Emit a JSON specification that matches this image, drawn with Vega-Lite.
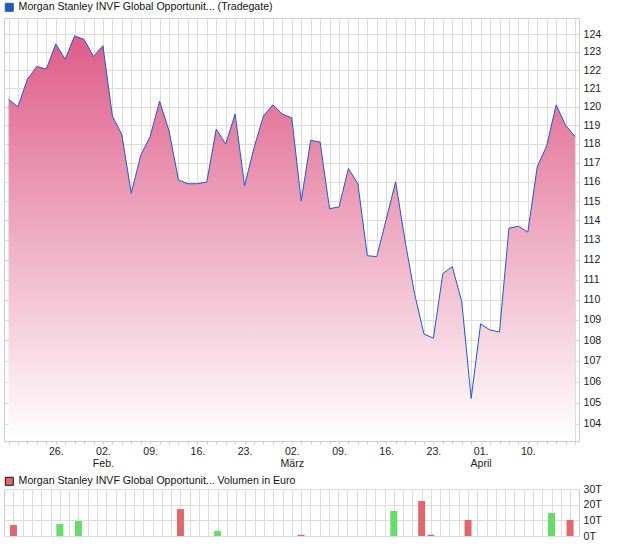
{
  "$schema": "https://vega.github.io/schema/vega-lite/v6.json",
  "padding": {"left": 3, "top": 2, "right": 0, "bottom": 0},
  "background": "white",
  "bounds": "flush",
  "spacing": 48,
  "config": {
    "font": "Liberation Sans",
    "view": {"stroke": "#cccccc"},
    "axis": {"labelFont": "Liberation Sans", "labelFontSize": 10.6, "labelColor": "#222222", "gridColor": "#dcdcdc", "domain": false, "tickColor": "#cccccc"},
    "legend": {"labelFont": "Liberation Sans", "labelFontSize": 10.6, "labelColor": "#111111", "padding": 0, "labelLimit": 0}
  },
  "datasets": {
    "price": [
      {"i": 0, "close": 120.4}, {"i": 1, "close": 120.0}, {"i": 2, "close": 121.5}, {"i": 3, "close": 122.2},
      {"i": 4, "close": 122.05}, {"i": 5, "close": 123.45}, {"i": 6, "close": 122.6}, {"i": 7, "close": 123.9},
      {"i": 8, "close": 123.7}, {"i": 9, "close": 122.75}, {"i": 10, "close": 123.35}, {"i": 11, "close": 119.5},
      {"i": 12, "close": 118.5}, {"i": 13, "close": 115.4}, {"i": 14, "close": 117.4}, {"i": 15, "close": 118.4},
      {"i": 16, "close": 120.3}, {"i": 17, "close": 118.7}, {"i": 18, "close": 116.1}, {"i": 19, "close": 115.9},
      {"i": 20, "close": 115.9}, {"i": 21, "close": 116.0}, {"i": 22, "close": 118.8}, {"i": 23, "close": 118.0},
      {"i": 24, "close": 119.6}, {"i": 25, "close": 115.8}, {"i": 26, "close": 117.8}, {"i": 27, "close": 119.5},
      {"i": 28, "close": 120.1}, {"i": 29, "close": 119.6}, {"i": 30, "close": 119.4}, {"i": 31, "close": 115.0},
      {"i": 32, "close": 118.2}, {"i": 33, "close": 118.1}, {"i": 34, "close": 114.6}, {"i": 35, "close": 114.7},
      {"i": 36, "close": 116.7}, {"i": 37, "close": 115.9}, {"i": 38, "close": 112.2}, {"i": 39, "close": 112.15},
      {"i": 40, "close": 114.05}, {"i": 41, "close": 116.0}, {"i": 42, "close": 112.95}, {"i": 43, "close": 110.3},
      {"i": 44, "close": 108.3}, {"i": 45, "close": 108.1}, {"i": 46, "close": 111.3}, {"i": 47, "close": 111.65},
      {"i": 48, "close": 109.9}, {"i": 49, "close": 105.2}, {"i": 50, "close": 108.8}, {"i": 51, "close": 108.5},
      {"i": 52, "close": 108.4}, {"i": 53, "close": 113.6}, {"i": 54, "close": 113.7}, {"i": 55, "close": 113.4},
      {"i": 56, "close": 116.8}, {"i": 57, "close": 117.9}, {"i": 58, "close": 120.1}, {"i": 59, "close": 119.0},
      {"i": 60, "close": 118.4}
    ],
    "vol": [
      {"i": 0, "v": 7.0, "dir": "down"}, {"i": 5, "v": 7.6, "dir": "up"}, {"i": 7, "v": 9.6, "dir": "up"},
      {"i": 18, "v": 17.2, "dir": "down"}, {"i": 22, "v": 3.2, "dir": "up"}, {"i": 31, "v": 0.8, "dir": "down"},
      {"i": 41, "v": 16.0, "dir": "up"}, {"i": 44, "v": 22.3, "dir": "down"}, {"i": 45, "v": 0.8, "dir": "down"},
      {"i": 49, "v": 10.2, "dir": "down"}, {"i": 58, "v": 14.7, "dir": "up"}, {"i": 60, "v": 10.2, "dir": "down"}
    ]
  },
  "vconcat": [
    {
      "width": 575,
      "height": 423,
      "data": {"name": "price"},
      "encoding": {
        "x": {
          "field": "i", "type": "quantitative",
          "scale": {"domain": [-0.48, 60.42], "nice": false, "zero": false},
          "axis": {
            "title": null,
            "values": [0,1,2,3,4,5,6,7,8,9,10,11,12,13,14,15,16,17,18,19,20,21,22,23,24,25,26,27,28,29,30,31,32,33,34,35,36,37,38,39,40,41,42,43,44,45,46,47,48,49,50,51,52,53,54,55,56,57,58,59,60],
            "grid": true, "ticks": true, "tickSize": 3,
            "labelOverlap": false, "labelFlush": false, "labelPadding": 2, "labelLineHeight": 12.5,
            "labelExpr": "datum.value==5?'26.':datum.value==10?['02.','Feb.']:datum.value==15?'09.':datum.value==20?'16.':datum.value==25?'23.':datum.value==30?['02.','März']:datum.value==35?'09.':datum.value==40?'16.':datum.value==45?'23.':datum.value==50?['01.','April']:datum.value==55?'10.':''"
          }
        },
        "y": {
          "field": "close", "type": "quantitative",
          "scale": {"type": "log", "domain": [103.2, 124.9], "nice": false},
          "axis": {"orient": "right", "title": null, "values": [104,105,106,107,108,109,110,111,112,113,114,115,116,117,118,119,120,121,122,123,124], "grid": true, "ticks": false, "labelPadding": 4, "labelFlush": false, "labelOverlap": false}
        }
      },
      "layer": [
        {
          "mark": {
            "type": "area",
            "fill": {"gradient": "linear", "x1": 0, "y1": 0, "x2": 0, "y2": 1, "stops": [{"offset": 0, "color": "#de5c88"}, {"offset": 1, "color": "#ffffff"}]}
          },
          "encoding": {"y2": {"datum": 103.2}}
        },
        {
          "mark": {"type": "line", "strokeWidth": 1},
          "encoding": {
            "stroke": {
              "datum": "Morgan Stanley INVF Global Opportunit... (Tradegate)",
              "scale": {"range": ["#1c5ad4"]},
              "legend": {
                "orient": "none", "legendX": 0, "legendY": -16, "title": null,
                "symbolType": "square", "symbolSize": 64, "labelOffset": 4,
                "encode": {"symbols": {"update": {"fill": {"value": "#2458b5"}, "stroke": {"value": "#1a1a40"}, "strokeWidth": {"value": 1}, "opacity": {"value": 1}}}}
              }
            }
          }
        }
      ]
    },
    {
      "width": 575,
      "height": 47,
      "data": {"name": "vol"},
      "mark": {"type": "bar", "size": 7},
      "encoding": {
        "x": {
          "field": "i", "type": "quantitative",
          "scale": {"domain": [-0.48, 60.42], "nice": false, "zero": false},
          "axis": {
            "title": null,
            "values": [0,1,2,3,4,5,6,7,8,9,10,11,12,13,14,15,16,17,18,19,20,21,22,23,24,25,26,27,28,29,30,31,32,33,34,35,36,37,38,39,40,41,42,43,44,45,46,47,48,49,50,51,52,53,54,55,56,57,58,59,60],
            "grid": true, "ticks": false, "labels": false
          }
        },
        "y": {
          "field": "v", "type": "quantitative",
          "scale": {"domain": [0, 30], "nice": false},
          "axis": {"orient": "right", "title": null, "values": [0, 10, 20, 30], "labelExpr": "datum.value + 'T'", "grid": true, "ticks": false, "labelPadding": 4, "labelFlush": false}
        },
        "color": {
          "field": "dir", "type": "nominal",
          "scale": {"domain": ["down", "up"], "range": ["#e06868", "#66dd66"]},
          "legend": {
            "values": ["down"], "labelExpr": "'Morgan Stanley INVF Global Opportunit... Volumen in Euro'",
            "orient": "none", "legendX": 0, "legendY": 458, "title": null,
            "symbolType": "square", "symbolSize": 64, "labelOffset": 4,
            "encode": {"symbols": {"update": {"fill": {"value": "#e06868"}, "stroke": {"value": "#111111"}, "strokeWidth": {"value": 1}, "opacity": {"value": 1}}}}
          }
        }
      }
    }
  ]
}
